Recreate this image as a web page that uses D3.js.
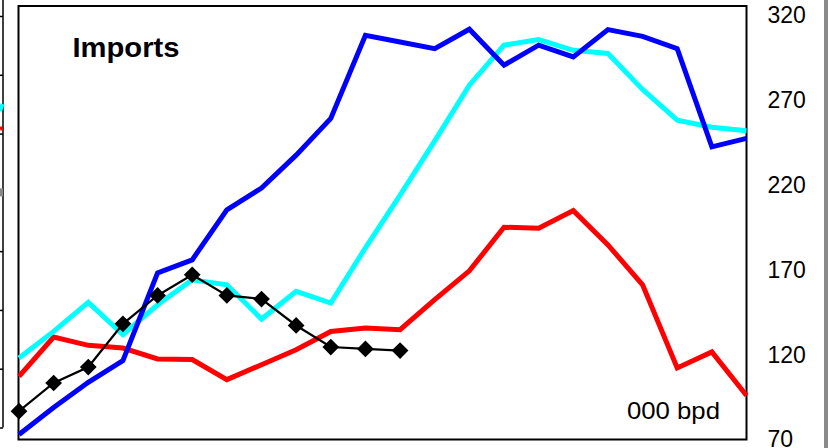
<!DOCTYPE html>
<html>
<head>
<meta charset="utf-8">
<script src="https://cdn.jsdelivr.net/npm/d3@7/dist/d3.min.js"></script>
<style>
  html, body { margin: 0; padding: 0; background: #fff; }
  svg { display: block; }
  text { font-family: Arial, "Liberation Sans", sans-serif; }
</style>
</head>
<body>
<svg id="chart" width="828" height="448"></svg>
<script>
// ---- data ----
const periods = ["1","2","3","4","5","6","7","8","9","10","11","12","13","14","15","16","17","18","19","20","21","22"];
const blueSeries  = [72.9, 88.8, 103.7, 116.5, 168.2, 175.9, 205.3, 218.2, 237.6, 259.2, 308.2, 304.3, 300.4, 311.8, 290.6, 302.4, 295.5, 311.6, 307.6, 300.4, 242.5, 247.5];
const cyanSeries  = [118.0, 133.7, 150.8, 131.8, 149.4, 164.1, 161.2, 141.0, 157.3, 150.4, 183.0, 214.0, 246.0, 278.8, 302.4, 305.7, 299.4, 297.5, 276.3, 258.2, 254.0, 252.0];
const redSeries   = [107.2, 130.4, 125.5, 123.9, 117.5, 117.1, 105.3, 114.1, 122.9, 133.7, 135.7, 134.7, 152.4, 169.4, 195.1, 194.5, 204.9, 184.7, 161.2, 112.2, 121.6, 95.9];
const blackSeries = [86.7, 103.3, 112.7, 138.2, 154.9, 167.1, 154.9, 152.8, 137.2, 124.5, 123.4, 122.4];
const yTicks = [70, 120, 170, 220, 270, 320];
const titleText = "Imports";
const unitText = "000 bpd";
// neighbouring (cropped) panel at the far left
const neighborTicks = [0, 1, 2, 3, 4, 5, 6, 7];

const svg = d3.select("#chart");
const W = 828, H = 448;
const plot = { left: 18.5, right: 746.5, top: 6, bottom: 439.5 };

const x = d3.scalePoint().domain(periods).range([plot.left + 0.5, plot.right]);
const y = d3.scaleLinear().domain([70, 325.5]).range([plot.bottom, plot.top]);

// right grey edge
svg.append("rect").attr("x", 824).attr("y", 0).attr("width", 4).attr("height", H).attr("fill", "#8a8a8a");

// neighbour panel fragment on the left
const ny = d3.scaleLinear().domain([0, 7]).range([427.5, 16]);
const nAxis = svg.append("g").attr("transform", "translate(3,0)")
  .call(d3.axisLeft(ny).tickValues(neighborTicks).tickSize(3).tickFormat(""));
nAxis.select(".domain").remove();
nAxis.selectAll("line").attr("stroke", "#000").attr("stroke-width", 1.5);
svg.append("line").attr("x1", 3).attr("x2", 3).attr("y1", 0).attr("y2", ny(0))
  .attr("stroke", "#000").attr("stroke-width", 1.5);
svg.append("rect").attr("x", 0).attr("y", ny(4) - 4).attr("width", 3).attr("height", 8).attr("fill", "#888");
svg.append("line").attr("x1", 0).attr("x2", 2.5).attr("y1", 111).attr("y2", 104)
  .attr("stroke", "#00ffff").attr("stroke-width", 4);
svg.append("line").attr("x1", 0).attr("x2", 2.5).attr("y1", 129).attr("y2", 128)
  .attr("stroke", "#ff0000").attr("stroke-width", 4);

// frame
svg.append("rect").attr("x", plot.left).attr("y", plot.top)
  .attr("width", plot.right - plot.left).attr("height", plot.bottom - plot.top)
  .attr("fill", "none").attr("stroke", "#000").attr("stroke-width", 2);

// right axis labels
const yAxis = svg.append("g").attr("transform", `translate(${plot.right},0)`)
  .call(d3.axisRight(y).tickValues(yTicks).tickSize(0).tickPadding(21));
yAxis.select(".domain").remove();
yAxis.selectAll("text").attr("font-size", 23).attr("fill", "#000")
  .attr("font-family", 'Arial, "Liberation Sans", sans-serif');

const line = d3.line().x((d, i) => x(periods[i])).y(d => y(d));

const series = [
  { data: redSeries, color: "#ff0000", w: 5 },
  { data: cyanSeries, color: "#00ffff", w: 5 },
  { data: blueSeries, color: "#0000ff", w: 5 }
];
series.forEach(s => {
  svg.append("path").datum(s.data).attr("d", line)
    .attr("fill", "none").attr("stroke", s.color).attr("stroke-width", s.w)
    .attr("stroke-linejoin", "miter").attr("stroke-miterlimit", 3);
});

svg.append("path").datum(blackSeries).attr("d", line)
  .attr("fill", "none").attr("stroke", "#000").attr("stroke-width", 2.2);
const diamond = d3.symbol().type(d3.symbolSquare).size(140);
svg.append("g").selectAll("path").data(blackSeries).join("path")
  .attr("d", diamond)
  .attr("transform", (d, i) => `translate(${x(periods[i])},${y(d)}) rotate(45)`)
  .attr("fill", "#000");

// texts
svg.append("text").attr("x", 72.5).attr("y", 56.5)
  .attr("font-size", 28).attr("font-weight", "bold").attr("fill", "#000")
  .attr("textLength", 107).attr("lengthAdjust", "spacingAndGlyphs").text(titleText);
svg.append("text").attr("x", 627).attr("y", 419)
  .attr("font-size", 24).attr("fill", "#000")
  .attr("textLength", 93).attr("lengthAdjust", "spacingAndGlyphs").text(unitText);
</script>
</body>
</html>
